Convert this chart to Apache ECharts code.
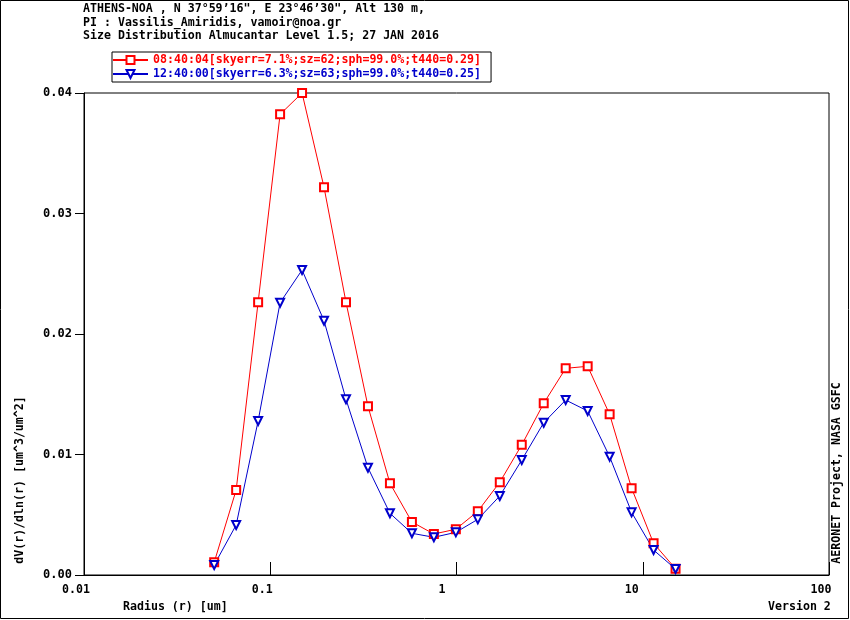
<!DOCTYPE html>
<html>
<head>
<meta charset="utf-8">
<title>AERONET size distribution</title>
<script src="https://cdn.jsdelivr.net/npm/echarts@6/dist/echarts.min.js"></script>
<style>
  html, body { margin: 0; padding: 0; background: #fff; }
  #chart { width: 850px; height: 620px; }
</style>
</head>
<body>
<div id="chart"></div>
<script>
// radius bins [um]
const radius = [0.05, 0.065604, 0.086077, 0.112939, 0.148184, 0.194429, 0.255105,
  0.334716, 0.439173, 0.576227, 0.756052, 0.991996, 1.301571, 1.707757, 2.240702,
  2.939966, 3.857452, 5.06126, 6.640745, 8.713145, 11.432287, 15.0]

// dV/dlnr for the two almucantars
const morning = [0.00105, 0.00705, 0.02263, 0.03823, 0.04000, 0.03217, 0.02263,
  0.01400, 0.00761, 0.00440, 0.00340, 0.00380, 0.00529, 0.00770, 0.01080,
  0.01425, 0.01715, 0.01732, 0.01333, 0.00720, 0.00263, 0.00052]
const noon = [0.00083, 0.00415, 0.01278, 0.02260, 0.02531, 0.02110, 0.01458,
  0.00890, 0.00512, 0.00346, 0.00313, 0.00354, 0.00462, 0.00656, 0.00954,
  0.01264, 0.01452, 0.01361, 0.00982, 0.00520, 0.00207, 0.00050]

const seriesNames = [
  '08:40:04[skyerr=7.1%;sz=62;sph=99.0%;t440=0.29]',
  '12:40:00[skyerr=6.3%;sz=63;sph=99.0%;t440=0.25]'
]
const xTickLabels = { 0.01: '0.01', 0.1: '0.1', 1: '1', 10: '10', 100: '100' }
const titleLines = [
  'ATHENS-NOA , N 37°59’16", E 23°46’30", Alt 130 m,',
  'PI : Vassilis_Amiridis, vamoir@noa.gr',
  'Size Distribution Almucantar Level 1.5; 27 JAN 2016'
]

const RED = '#ff0000'
const BLUE = '#0000cc'
const FONT = 'DejaVu Sans Mono'
const FSIZE = 11.6

function pairs(ys) {
  return ys.map((y, i) => [radius[i], y])
}

function txt(text, x, y, extra) {
  return Object.assign({
    type: 'text',
    x: x, y: y,
    style: {
      text: text,
      font: 'bold ' + FSIZE + 'px "' + FONT + '"',
      fill: '#000',
      align: 'left',
      verticalAlign: 'middle'
    }
  }, extra || {})
}

const chart = echarts.init(document.getElementById('chart'))

const labelFont = { fontFamily: FONT, fontWeight: 'bold', fontSize: FSIZE }

const option = {
  animation: false,
  textStyle: { fontFamily: FONT, fontWeight: 'bold', fontSize: FSIZE, color: '#000' },
  grid: {
    left: 84, right: 21, top: 93, bottom: 45,
    show: true, borderColor: '#000', borderWidth: 1, backgroundColor: 'transparent'
  },
  legend: {
    orient: 'vertical',
    left: 112, top: 52,
    itemWidth: 35, itemHeight: 10, itemGap: 2,
    padding: [2, 10, 2, 0],
    borderColor: '#000', borderWidth: 1,
    selectedMode: false,
    textStyle: labelFont,
    data: [
      { name: seriesNames[0], textStyle: { color: RED } },
      { name: seriesNames[1], textStyle: { color: BLUE } }
    ]
  },
  xAxis: {
    type: 'log',
    logBase: 10,
    min: 0.01, max: 100,
    axisLine: { lineStyle: { color: '#000', width: 1 } },
    axisTick: { inside: true, length: 13, lineStyle: { color: '#000' } },
    minorTick: { show: false },
    splitLine: { show: false },
    axisLabel: {
      margin: 9,
      color: '#000',
      formatter: function (v) {
        const key = Math.round(Math.log10(v))
        const label = xTickLabels[Math.pow(10, key)] || String(v)
        const style = { '-2': 'a', '-1': 'a', '0': 'c', '1': 'b', '2': 'a' }[key] || 'a'
        return '{' + style + '|' + label + '}'
      },
      rich: {
        a: Object.assign({ padding: [0, 16, 0, 0] }, labelFont),
        b: Object.assign({ padding: [0, 22, 0, 0] }, labelFont),
        c: Object.assign({ padding: [0, 29, 0, 0] }, labelFont)
      }
    }
  },
  yAxis: {
    type: 'value',
    min: 0, max: 0.04, interval: 0.01,
    axisLine: { show: true, lineStyle: { color: '#000', width: 1 } },
    axisTick: { show: true, inside: false, length: 9, lineStyle: { color: '#000' } },
    splitLine: { show: false },
    axisLabel: {
      margin: 12,
      color: '#000',
      formatter: v => v.toFixed(2)
    }
  },
  series: [
    {
      name: seriesNames[0],
      type: 'line',
      data: pairs(morning),
      symbol: 'emptyRect',
      symbolSize: 8,
      clip: false,
      lineStyle: { color: RED, width: 1 },
      itemStyle: { color: RED, borderColor: RED, borderWidth: 1 }
    },
    {
      name: seriesNames[1],
      type: 'line',
      data: pairs(noon),
      symbol: 'emptyTriangle',
      symbolRotate: 180,
      symbolSize: 8,
      clip: false,
      lineStyle: { color: BLUE, width: 1 },
      itemStyle: { color: BLUE, borderColor: BLUE, borderWidth: 1 }
    }
  ],
  graphic: [
    { type: 'rect', shape: { x: 0.5, y: 0.5, width: 848, height: 618 },
      style: { fill: 'none', stroke: '#000', lineWidth: 1 }, silent: true },
    txt(titleLines[0], 83, 9),
    txt(titleLines[1], 83, 23),
    txt(titleLines[2], 83, 36),
    txt('Radius (r) [um]', 123, 607),
    txt('Version 2', 768, 607),
    txt('', 20, 480, { rotation: Math.PI / 2,
      style: { text: 'dV(r)/dln(r) [um^3/um^2]', font: 'bold ' + FSIZE + 'px "' + FONT + '"',
        fill: '#000', align: 'center', verticalAlign: 'middle' } }),
    txt('', 837, 473, { rotation: Math.PI / 2,
      style: { text: 'AERONET Project, NASA GSFC', font: 'bold ' + FSIZE + 'px "' + FONT + '"',
        fill: '#000', align: 'center', verticalAlign: 'middle' } })
  ]
}

chart.setOption(option)
</script>
</body>
</html>
